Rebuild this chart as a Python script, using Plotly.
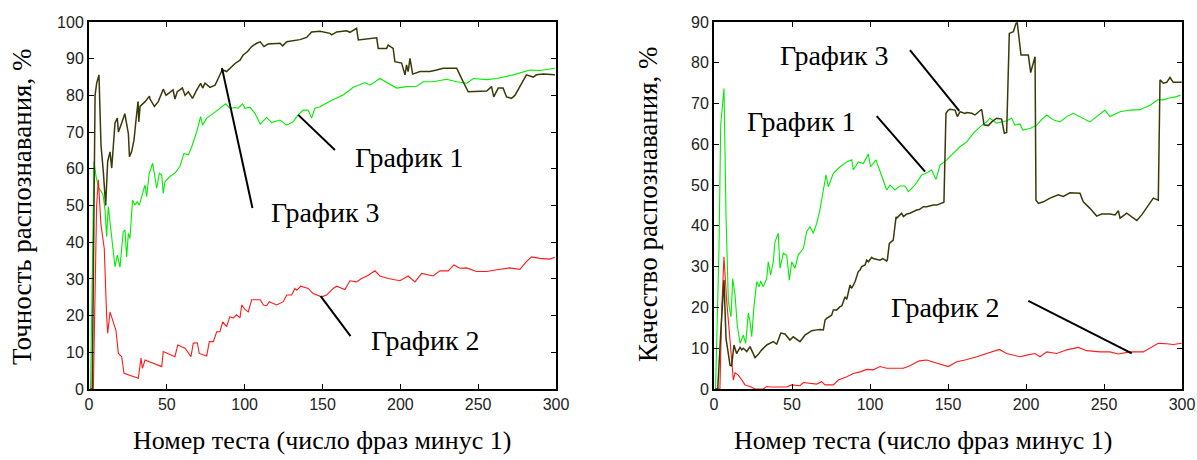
import plotly.graph_objects as go

W, H = 1197, 460

# ---------------- Left chart data (Точность) ----------------
l_g1_x = [1, 2.1, 3.2, 4.5, 6, 7.5, 9, 10.3, 11.3, 12.4, 13.5, 15.2, 16.7, 18.2, 19.9, 22, 23.1, 24.2, 25.3, 26.3,
          28, 29.5, 31, 32.3, 33.8, 36, 37, 38.7, 40.9, 42.4, 43.5, 45.2, 46.7, 47.7, 48.8, 52, 55.2, 58.4, 61, 63.8,
          66, 69.2, 71.7, 73, 75.6, 79.9, 84.1, 87.8, 90.5, 93.8, 95.9, 98.7, 100.2, 103.4, 106.6, 110, 114.1, 117.3, 122.7, 127,
          131.2, 134.4, 137.6, 140.8, 143, 145.1, 148.4, 155.9, 163.3, 169.8, 177.3, 180.5, 186.9, 191.2, 197.6, 204, 210.5, 214.7, 221.1, 229.7,
          236.2, 242.6, 246.9, 255.5, 261.9, 272.6, 283.2, 289.7, 299.3]
l_g1_y = [0, 30, 62, 58, 55, 54, 53, 48.8, 41.5, 49.7, 45, 37.9, 33.3, 36.5, 33.2, 42.9, 43.3, 36, 42.4, 41,
          51.5, 50.1, 51, 50.1, 52.4, 55.6, 52.4, 58.8, 61.5, 57.9, 54.7, 58.8, 58.3, 53.3, 56.5, 57.9, 58.8, 60.6, 64.2, 63.8,
          66, 70.1, 74.2, 71.9, 73.8, 75.1, 76.5, 77.7, 76.5, 76.7, 76.5, 77.7, 76.5, 76.8, 75.1, 72.2, 74, 72.6, 73.3, 71.9,
          72.8, 74.7, 76, 76, 73.8, 76.5, 76.9, 78.7, 80.1, 82.2, 83.5, 82.8, 84.6, 83.5, 82, 82.4, 82.5, 83.7, 83.7, 84.4,
          83.7, 83.3, 84.6, 84.3, 84.6, 85.6, 86.9, 86.8, 87.4]

l_g2_x = [1, 2.8, 4.9, 6, 7.7, 9.8, 11.3, 12, 13.5, 15.6, 17.3, 18.9, 21, 22.5, 31.7, 33.4, 34.3, 36, 46.7, 47.7,
          55.2, 57, 61.7, 65.5, 67, 69.6, 70.8, 75.6, 77.3, 79.9, 82, 84.1, 85.9, 88.4, 90.5, 92.7, 94.8, 97, 98.1, 100.2,
          102.3, 104.5, 107.7, 110, 112, 114.1, 115.8, 120.6, 124.8, 127, 130.2, 132.3, 133.4, 136, 140.8, 144, 149.4, 152.6, 156.9, 159.1,
          164.4, 167.6, 171.9, 175.1, 179.4, 183.7, 186.9, 192.2, 199.7, 205, 209.4, 213.7, 221.1, 225.4, 230.8, 234.4, 238.3, 242.6, 249, 255.5,
          261.9, 270.4, 276.8, 281, 284.3, 289.7, 296, 299.3]
l_g2_y = [0, 0, 50, 57, 44.7, 38.3, 20.2, 15.2, 21, 18.3, 16, 9.7, 8.8, 4.3, 2.9, 8.4, 5.6, 7.9, 6.1, 10.2,
          8.8, 12, 11.1, 8.8, 12.5, 12.6, 9.7, 9, 12.9, 12.9, 15.6, 15.6, 18.3, 17, 19.7, 19.3, 20.2, 19.4, 22.9, 21.7,
          21, 24.3, 24.4, 24.3, 22.9, 22.7, 23.8, 22.9, 23.8, 25.6, 25.6, 27.4, 26.9, 28, 27.4, 26, 25.1, 25.6, 27.4, 28,
          27.1, 29.5, 29.2, 30.1, 31, 32.2, 30.8, 30.1, 29.5, 30.8, 29.2, 31.5, 30.8, 32.2, 32.2, 33.8, 32.9, 33, 32, 32,
          32.5, 33, 32.6, 34.7, 36, 35.6, 35.4, 35.9]

l_g3_x = [1, 2.1, 3.9, 4.9, 6.4, 7.7, 9.2, 10.7, 12, 13.5, 14.6, 16.7, 18.2, 18.9, 21, 23, 25.3, 26, 27.4, 28.9,
          30.2, 31.5, 32, 32.8, 36, 38.8, 39.2, 42, 44.5, 47.7, 49.5, 54, 55.2, 56.7, 60, 61.7, 63.8, 66.5, 69, 71.7,
          73, 74.5, 77.7, 81, 83, 85.6, 88.4, 90.5, 93.8, 97, 99, 101.7, 104.5, 107.7, 110, 112.4, 115, 122.7, 124.4, 127,
          135.5, 139.8, 143, 148.4, 154.8, 155.9, 159.1, 165.5, 167.6, 171.9, 173, 184.8, 185.8, 191.2, 192.2, 195.4, 196.5, 200.8, 203, 204,
          205, 206.2, 207.9, 212.6, 219, 223.3, 227.6, 236.2, 238.3, 240.4, 243.6, 249, 255.5, 258.6, 260, 262.9, 266, 268.2, 271.4, 273.6,
          276.8, 281, 285.4, 287.5, 291.8, 299.3]
l_g3_y = [0, 0, 80, 83.3, 85.6, 66.5, 59.2, 50, 62, 64.6, 60.2, 72.5, 73.8, 70, 72.5, 75, 69.6, 63.3, 64.7, 67.8,
          73.3, 78.3, 72.8, 77, 78.3, 79.8, 79, 77, 78.3, 81.7, 80, 81.5, 79, 81, 82, 80, 81, 79.2, 81.3, 83.3,
          82, 83.3, 82.2, 82.8, 84.6, 87, 86.5, 87.4, 88.7, 89.6, 91, 91.9, 93.3, 94.2, 94.6, 93.3, 94, 94.2, 93.5, 94.6,
          95.2, 95.8, 97.3, 97.5, 96.9, 96.5, 97.3, 97.6, 97.2, 98.3, 95.1, 95.7, 92.8, 92.8, 93.7, 92.8, 89.2, 88.8, 85.6, 88.3,
          86.5, 90.1, 85.8, 86.5, 86.5, 86.9, 87.4, 87.4, 85.3, 83.7, 81, 81, 81.2, 82.4, 79.6, 82, 82, 79.6, 79.2, 80,
          82.4, 85.6, 85, 85.6, 85.8, 85.6]

# ---------------- Right chart data (Качество) ----------------
r_g1_x = [1, 3.2, 4.3, 6, 6.4, 7.7, 9.2, 10.9, 12, 13.5, 14.9, 16.7, 18.8, 20.3, 22, 23.1, 24.2, 25.6, 27.4, 29,
          29.9, 31.6, 33.8, 34.8, 36.3, 38, 39.1, 41.2, 42.3, 44.4, 46.6, 48.3, 49.8, 51.9, 54, 57.3, 59.4, 61.5, 63.7, 65.8,
          67.9, 70.1, 71.8, 73.3, 76.5, 80.8, 85.1, 88.3, 89.3, 92.5, 95.7, 98.9, 100.4, 103.8, 106.4, 108.5, 110.7, 112.8, 116, 119.2,
          122.4, 124.6, 127.8, 130.3, 133.1, 135.9, 139.5, 142.3, 144.9, 149.2, 153.4, 157.7, 162, 166.2, 170.5, 174.8, 176.9, 181.2, 187.6, 190.8,
          192.9, 196.2, 197.9, 202.6, 206.9, 210.1, 213.3, 217.5, 221.8, 226.1, 230.3, 234.6, 241, 245.3, 250.6, 253.8, 260.3, 266.7, 273.1, 279.5,
          284.8, 288, 291.2, 296.6, 299.1]
r_g1_y = [0, 34.5, 64.7, 71.3, 73.7, 42.7, 21.4, 17.7, 27.1, 23, 15.7, 11.2, 13.2, 11.2, 18.6, 16.5, 12.8, 20.2, 26.3, 25.1,
          26.5, 25.1, 27.1, 31.2, 28, 31.2, 36.1, 38.2, 29.6, 33.3, 32.8, 26.7, 31.2, 29.6, 32.9, 34.5, 38.6, 39.8, 38.2, 40.6,
          43.9, 48.8, 52.5, 49.6, 52.9, 54.5, 55.7, 56.2, 53.7, 55.7, 55.3, 57.6, 54.5, 56.2, 53.7, 51.2, 48.8, 50, 48.8, 49.8,
          49.8, 48.4, 49.6, 50.8, 52.5, 52.9, 53.7, 51.4, 54.9, 56.2, 57.8, 59.4, 60.6, 62.7, 64.3, 65.5, 66.4, 65.2, 65.8, 66.4,
          64.7, 65, 63.5, 63.9, 64.7, 66.1, 67.2, 66, 65.5, 66.8, 67.6, 66.8, 65.5, 66.8, 68.4, 66.8, 68, 68.4, 68.5, 69.6,
          71, 70.9, 71.3, 71.7, 72.1]

r_g2_x = [1, 3.8, 5, 6.4, 8.1, 10.3, 11.3, 12.4, 13.5, 15.6, 17.8, 19.9, 23.1, 26.3, 31.6, 33.8, 35.9, 46.6, 49.8, 55.1,
          57.3, 65.8, 69, 71.2, 76.5, 79.7, 85.1, 89.3, 93.6, 97.9, 102.1, 106.4, 110.7, 114.9, 121.4, 125.6, 131.6, 136.3, 142.8, 150.2,
          155.6, 160.9, 168.4, 174.8, 182.9, 187.6, 196.2, 200.4, 205.8, 209, 213.3, 219.7, 226.1, 233.5, 238.9, 247.4, 253.8, 259.2, 266.7, 275.2,
          279.5, 284.8, 290.2, 294.4, 299.8]
r_g2_y = [0, 0, 20, 32.4, 21.8, 12, 5.5, 2.2, 4, 3.4, 2.2, 1, 0.6, 0, 0, 0.6, 0.5, 0.5, 1, 0.8,
          1.6, 1.2, 1.8, 1, 1, 2.2, 3, 3.8, 4.2, 4.8, 4.7, 5.5, 5.1, 5.1, 5.1, 5.7, 6.9, 7.1, 6.3, 5.5,
          6.7, 7.1, 7.9, 8.7, 9.7, 8.7, 7.9, 8.3, 8.7, 7.9, 9.1, 8.7, 9.6, 10.2, 9.4, 9.1, 9.1, 8.6, 9.1, 9.1,
          10, 11.2, 11.1, 10.9, 11.2]

r_g3_x = [1, 2.4, 4.5, 6.4, 7.7, 9.2, 10.3, 11.3, 12.8, 14.5, 16.7, 17.8, 18.8, 21, 23.1, 26.3, 28.4, 30.6, 33.8, 38,
          40.2, 42.8, 45.5, 48.7, 50.8, 55.1, 58.3, 61.5, 62.6, 65.8, 67.9, 70.1, 71.2, 72.2, 75.4, 76.5, 78.7, 80.8, 82, 84,
          85.1, 87.2, 88.3, 90.4, 92.5, 93.6, 94.7, 96.8, 97.9, 99, 101.1, 102.1, 105.3, 106.4, 108.1, 110.7, 111.1, 112.4, 114.9, 116.7,
          117.1, 120.3, 121.4, 123.5, 125.6, 127.8, 129.9, 131.6, 134.2, 136.3, 140.6, 142.8, 144.9, 147.4, 148.7, 150.2, 151.3, 154.5, 156, 157.7,
          160.9, 162, 165.2, 167.3, 171.6, 173.1, 175.9, 178, 181.2, 184.4, 186.1, 187.6, 189.3, 191.9, 193.6, 194.4, 196.8, 201.5, 203, 204.3,
          205.8, 206.4, 208, 211.1, 215.4, 220.7, 223.9, 228.2, 234.6, 236.7, 241, 245.3, 248.5, 253.8, 257.1, 259.2, 260.3, 264.6, 267.7, 271,
          274.2, 278.4, 281.6, 284.8, 285.9, 288, 290.2, 292.3, 294.4, 299.8]
r_g3_y = [0, 0, 15, 26.7, 12.4, 9, 5.8, 5.7, 10.8, 8.7, 10.2, 9.6, 10, 9.2, 10.4, 7.7, 8.5, 9.6, 10.8, 11.6,
          11, 13.7, 13.5, 12, 12.8, 11.6, 13.2, 14, 14.3, 14.5, 14.6, 14.5, 16.9, 17.3, 18.1, 19.4, 19.4, 20.2, 20.4, 22.6,
          22, 25.5, 24.7, 26.3, 28.8, 29.2, 30, 30.4, 31.6, 31.2, 32.3, 32, 31.6, 31.6, 32, 31.4, 31.6, 35.7, 36.5, 42.2,
          41.9, 43.1, 42.3, 42.9, 43.1, 43.5, 43.9, 44, 44.7, 44.7, 45.1, 45.1, 45.5, 45.8, 67.6, 68.4, 68.6, 68.4, 66.8, 68,
          67.6, 67.8, 67.6, 67.2, 68.6, 64.8, 64.6, 65.5, 66.4, 66.2, 62.7, 62.9, 87.2, 87.6, 89.7, 89.8, 81.9, 81.9, 77.6, 79.4,
          81.5, 46.3, 45.5, 45.9, 46.8, 47.6, 47.2, 48.1, 48, 45.9, 44.3, 42.4, 42.9, 42.9, 42.7, 43.7, 41.9, 43.1, 42.2, 41.3,
          42.7, 45.1, 46.8, 46.3, 75.8, 75, 75.2, 76.4, 75.2, 75.2]

for a, b in [(l_g1_x, l_g1_y), (l_g2_x, l_g2_y), (l_g3_x, l_g3_y),
             (r_g1_x, r_g1_y), (r_g2_x, r_g2_y), (r_g3_x, r_g3_y)]:
    assert len(a) == len(b), (len(a), len(b))

x_ticks = [0, 50, 100, 150, 200, 250, 300]
l_y_ticks = list(range(0, 101, 10))
r_y_ticks = list(range(0, 91, 10))

l_ytitle = "Точность распознавания, %"
r_ytitle = "Качество распознавания, %"
xtitle = "Номер теста (число фраз минус 1)"

# labels: (text, text_x, text_y, line_x0, line_y0, line_x1, line_y1)
l_labels = [("График 1", 206, 63.2, 134.4, 74.7, 158, 65.1),
            ("График 3", 152, 48, 85.4, 87.5, 105, 49.3),
            ("График 2", 216.4, 13.1, 148.8, 25.3, 168, 14.4)]
r_labels = [("График 3", 77, 81.7, 125.6, 83.1, 157.2, 68.2),
            ("График 1", 56, 65.5, 104.3, 66.9, 135.3, 53.3),
            ("График 2", 148.7, 20.1, 201.5, 21.6, 267.8, 8.75)]

GREEN = "#00ee00"
RED = "#ff1a1a"
DARK = "#3a3a08"
SERIF = "Liberation Serif, Times New Roman, serif"
SANS = "Liberation Sans, Arial, sans-serif"

fig = go.Figure()
for xs, ys, col, w, xa, ya in [
        (l_g1_x, l_g1_y, GREEN, 1.1, "x", "y"),
        (l_g2_x, l_g2_y, RED, 1.1, "x", "y"),
        (l_g3_x, l_g3_y, DARK, 1.5, "x", "y"),
        (r_g1_x, r_g1_y, GREEN, 1.1, "x2", "y2"),
        (r_g2_x, r_g2_y, RED, 1.1, "x2", "y2"),
        (r_g3_x, r_g3_y, DARK, 1.5, "x2", "y2")]:
    fig.add_trace(go.Scatter(x=xs, y=ys, mode="lines", line=dict(color=col, width=w),
                             xaxis=xa, yaxis=ya, showlegend=False, hoverinfo="skip"))

dom_y = [1 - 389 / H, 1 - 22 / H]
axis_common = dict(showline=True, linewidth=2, linecolor="black", mirror="ticks",
                   ticks="inside", ticklen=5, tickwidth=1, tickcolor="black",
                   showgrid=False, zeroline=False, automargin=False,
                   tickfont=dict(family=SANS, size=16, color="#222"))
fig.update_layout(
    width=W, height=H, margin=dict(l=0, r=0, t=0, b=0, pad=0), autosize=False,
    paper_bgcolor="white", plot_bgcolor="white",
    xaxis=dict(domain=[89 / W, 556 / W], range=[0, 300], tickvals=x_ticks, anchor="y", **axis_common),
    yaxis=dict(domain=dom_y, range=[0, 100], tickvals=l_y_ticks, anchor="x", **axis_common),
    xaxis2=dict(domain=[714 / W, 1182 / W], range=[0, 300], tickvals=x_ticks, anchor="y2", **axis_common),
    yaxis2=dict(domain=dom_y, range=[0, 90], tickvals=r_y_ticks, anchor="x2", **axis_common),
)

for labels, xr, yr in [(l_labels, "x", "y"), (r_labels, "x2", "y2")]:
    for text, tx, ty, x0, y0, x1, y1 in labels:
        fig.add_shape(type="line", xref=xr, yref=yr, x0=x0, y0=y0, x1=x1, y1=y1,
                      line=dict(color="black", width=2))
        fig.add_annotation(xref=xr, yref=yr, x=tx, y=ty, text=text, showarrow=False,
                           xanchor="center", yanchor="middle",
                           font=dict(family=SERIF, size=28, color="black"))

# axis titles
xtitle_font = dict(family=SERIF, size=26, color="black")
ytitle_font = dict(family=SERIF, size=27, color="black")
fig.add_annotation(xref="paper", yref="paper", x=322 / W, y=1 - 440 / H, text=xtitle, showarrow=False,
                   xanchor="center", yanchor="middle", font=xtitle_font)
fig.add_annotation(xref="paper", yref="paper", x=923 / W, y=1 - 440 / H, text=xtitle, showarrow=False,
                   xanchor="center", yanchor="middle", font=xtitle_font)
fig.add_annotation(xref="paper", yref="paper", x=22 / W, y=1 - 207 / H, text=l_ytitle, showarrow=False,
                   xanchor="center", yanchor="middle", textangle=-90, font=ytitle_font)
fig.add_annotation(xref="paper", yref="paper", x=648 / W, y=1 - 204 / H, text=r_ytitle, showarrow=False,
                   xanchor="center", yanchor="middle", textangle=-90, font=ytitle_font)

fig.write_html("out.html")
